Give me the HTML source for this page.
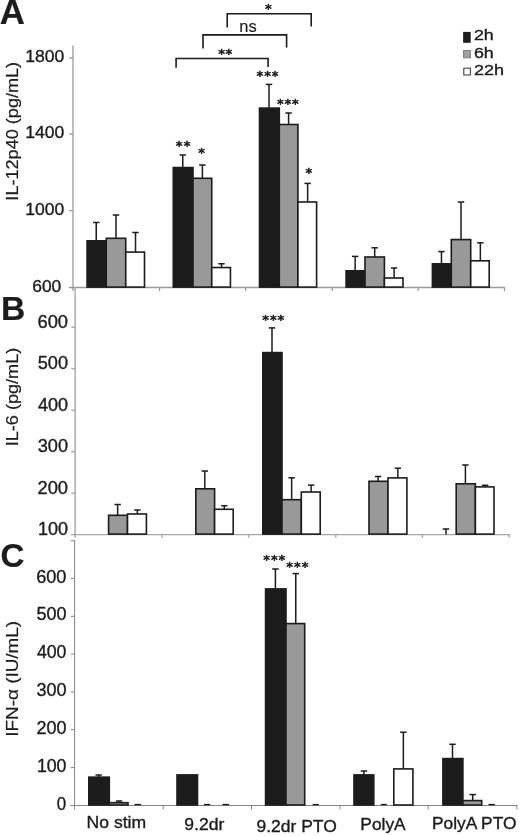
<!DOCTYPE html>
<html lang="en"><head><meta charset="utf-8"><title>Figure</title>
<style>
html,body{margin:0;padding:0;background:#fff;}
body{width:520px;height:836px;overflow:hidden;}
svg{display:block;}
.ls{font-family:"Liberation Sans",Arial,Helvetica,sans-serif;}
.dv{font-family:"DejaVu Sans","Liberation Sans",sans-serif;}
</style></head><body>
<svg width="520" height="836" viewBox="0 0 520 836">
<defs><filter id="soft" x="0" y="0" width="520" height="836" filterUnits="userSpaceOnUse"><feGaussianBlur stdDeviation="0.35"/></filter></defs>
<rect width="520" height="836" fill="#fff"/>
<g filter="url(#soft)">
<line x1="73.0" y1="45.4" x2="73.0" y2="291.1" stroke="#9a9a9a" stroke-width="1.3" stroke-linecap="butt"/>
<line x1="68.8" y1="287.5" x2="505.1" y2="287.5" stroke="#9a9a9a" stroke-width="1.3" stroke-linecap="butt"/>
<line x1="69.2" y1="58" x2="73.0" y2="58" stroke="#9a9a9a" stroke-width="1.3" stroke-linecap="butt"/>
<line x1="69.2" y1="134" x2="73.0" y2="134" stroke="#9a9a9a" stroke-width="1.3" stroke-linecap="butt"/>
<line x1="69.2" y1="210.6" x2="73.0" y2="210.6" stroke="#9a9a9a" stroke-width="1.3" stroke-linecap="butt"/>
<line x1="159.5" y1="287.5" x2="159.5" y2="291.1" stroke="#9a9a9a" stroke-width="1.3" stroke-linecap="butt"/>
<line x1="245.7" y1="287.5" x2="245.7" y2="291.1" stroke="#9a9a9a" stroke-width="1.3" stroke-linecap="butt"/>
<line x1="332.3" y1="287.5" x2="332.3" y2="291.1" stroke="#9a9a9a" stroke-width="1.3" stroke-linecap="butt"/>
<line x1="418.2" y1="287.5" x2="418.2" y2="291.1" stroke="#9a9a9a" stroke-width="1.3" stroke-linecap="butt"/>
<line x1="504.5" y1="287.5" x2="504.5" y2="291.1" stroke="#9a9a9a" stroke-width="1.3" stroke-linecap="butt"/>
<line x1="75.1" y1="287.5" x2="75.1" y2="537.8000000000001" stroke="#a6a6a6" stroke-width="1.4" stroke-linecap="butt"/>
<line x1="70.89999999999999" y1="534.6" x2="509.8" y2="534.6" stroke="#a6a6a6" stroke-width="1.4" stroke-linecap="butt"/>
<line x1="71.3" y1="327.3" x2="75.1" y2="327.3" stroke="#a6a6a6" stroke-width="1.4" stroke-linecap="butt"/>
<line x1="71.3" y1="368.6" x2="75.1" y2="368.6" stroke="#a6a6a6" stroke-width="1.4" stroke-linecap="butt"/>
<line x1="71.3" y1="410.2" x2="75.1" y2="410.2" stroke="#a6a6a6" stroke-width="1.4" stroke-linecap="butt"/>
<line x1="71.3" y1="451.7" x2="75.1" y2="451.7" stroke="#a6a6a6" stroke-width="1.4" stroke-linecap="butt"/>
<line x1="71.3" y1="493.2" x2="75.1" y2="493.2" stroke="#a6a6a6" stroke-width="1.4" stroke-linecap="butt"/>
<line x1="161.9" y1="534.6" x2="161.9" y2="537.8000000000001" stroke="#a6a6a6" stroke-width="1.4" stroke-linecap="butt"/>
<line x1="248.6" y1="534.6" x2="248.6" y2="537.8000000000001" stroke="#a6a6a6" stroke-width="1.4" stroke-linecap="butt"/>
<line x1="335.8" y1="534.6" x2="335.8" y2="537.8000000000001" stroke="#a6a6a6" stroke-width="1.4" stroke-linecap="butt"/>
<line x1="422.4" y1="534.6" x2="422.4" y2="537.8000000000001" stroke="#a6a6a6" stroke-width="1.4" stroke-linecap="butt"/>
<line x1="509.2" y1="534.6" x2="509.2" y2="537.8000000000001" stroke="#a6a6a6" stroke-width="1.4" stroke-linecap="butt"/>
<line x1="74.6" y1="540.2" x2="74.6" y2="809.5" stroke="#858585" stroke-width="1.0" stroke-linecap="butt"/>
<line x1="70.39999999999999" y1="805.5" x2="517.4" y2="805.5" stroke="#858585" stroke-width="1.0" stroke-linecap="butt"/>
<line x1="70.8" y1="540.7" x2="74.6" y2="540.7" stroke="#858585" stroke-width="1.0" stroke-linecap="butt"/>
<line x1="70.8" y1="578.4" x2="74.6" y2="578.4" stroke="#858585" stroke-width="1.0" stroke-linecap="butt"/>
<line x1="70.8" y1="616.3" x2="74.6" y2="616.3" stroke="#858585" stroke-width="1.0" stroke-linecap="butt"/>
<line x1="70.8" y1="654" x2="74.6" y2="654" stroke="#858585" stroke-width="1.0" stroke-linecap="butt"/>
<line x1="70.8" y1="691.9" x2="74.6" y2="691.9" stroke="#858585" stroke-width="1.0" stroke-linecap="butt"/>
<line x1="70.8" y1="729.7" x2="74.6" y2="729.7" stroke="#858585" stroke-width="1.0" stroke-linecap="butt"/>
<line x1="70.8" y1="767.6" x2="74.6" y2="767.6" stroke="#858585" stroke-width="1.0" stroke-linecap="butt"/>
<line x1="163.2" y1="805.5" x2="163.2" y2="809.5" stroke="#858585" stroke-width="1.0" stroke-linecap="butt"/>
<line x1="251.5" y1="805.5" x2="251.5" y2="809.5" stroke="#858585" stroke-width="1.0" stroke-linecap="butt"/>
<line x1="340" y1="805.5" x2="340" y2="809.5" stroke="#858585" stroke-width="1.0" stroke-linecap="butt"/>
<line x1="428.2" y1="805.5" x2="428.2" y2="809.5" stroke="#858585" stroke-width="1.0" stroke-linecap="butt"/>
<line x1="516.9" y1="805.5" x2="516.9" y2="809.5" stroke="#858585" stroke-width="1.0" stroke-linecap="butt"/>
<text x="25.25" y="62.0" font-size="16.8" textLength="39.07" lengthAdjust="spacingAndGlyphs" fill="#1c1c1c" stroke="#1c1c1c" stroke-width="0.35" class="ls">1800</text>
<text x="25.25" y="138.2" font-size="16.8" textLength="39.07" lengthAdjust="spacingAndGlyphs" fill="#1c1c1c" stroke="#1c1c1c" stroke-width="0.35" class="ls">1400</text>
<text x="25.25" y="215.1" font-size="16.8" textLength="39.07" lengthAdjust="spacingAndGlyphs" fill="#1c1c1c" stroke="#1c1c1c" stroke-width="0.35" class="ls">1000</text>
<text x="32.25" y="292.0" font-size="16.8" textLength="29.06" lengthAdjust="spacingAndGlyphs" fill="#1c1c1c" stroke="#1c1c1c" stroke-width="0.35" class="ls">600</text>
<text x="37.45" y="327.7" font-size="17.5" textLength="30.57" lengthAdjust="spacingAndGlyphs" fill="#1c1c1c" stroke="#1c1c1c" stroke-width="0.35" class="ls">600</text>
<text x="37.70" y="369.2" font-size="17.5" textLength="30.30" lengthAdjust="spacingAndGlyphs" fill="#1c1c1c" stroke="#1c1c1c" stroke-width="0.35" class="ls">500</text>
<text x="37.95" y="410.7" font-size="17.5" textLength="30.03" lengthAdjust="spacingAndGlyphs" fill="#1c1c1c" stroke="#1c1c1c" stroke-width="0.35" class="ls">400</text>
<text x="37.70" y="452.2" font-size="17.5" textLength="30.30" lengthAdjust="spacingAndGlyphs" fill="#1c1c1c" stroke="#1c1c1c" stroke-width="0.35" class="ls">300</text>
<text x="37.45" y="493.7" font-size="17.5" textLength="30.57" lengthAdjust="spacingAndGlyphs" fill="#1c1c1c" stroke="#1c1c1c" stroke-width="0.35" class="ls">200</text>
<text x="37.95" y="535.2" font-size="17.5" textLength="30.10" lengthAdjust="spacingAndGlyphs" fill="#1c1c1c" stroke="#1c1c1c" stroke-width="0.35" class="ls">100</text>
<text x="36.15" y="582.5" font-size="17.5" textLength="30.31" lengthAdjust="spacingAndGlyphs" fill="#1c1c1c" stroke="#1c1c1c" stroke-width="0.35" class="ls">600</text>
<text x="36.40" y="620.4" font-size="17.5" textLength="30.05" lengthAdjust="spacingAndGlyphs" fill="#1c1c1c" stroke="#1c1c1c" stroke-width="0.35" class="ls">500</text>
<text x="36.90" y="658.3" font-size="17.5" textLength="29.51" lengthAdjust="spacingAndGlyphs" fill="#1c1c1c" stroke="#1c1c1c" stroke-width="0.35" class="ls">400</text>
<text x="36.40" y="696.1" font-size="17.5" textLength="30.05" lengthAdjust="spacingAndGlyphs" fill="#1c1c1c" stroke="#1c1c1c" stroke-width="0.35" class="ls">300</text>
<text x="36.40" y="734.0" font-size="17.5" textLength="30.05" lengthAdjust="spacingAndGlyphs" fill="#1c1c1c" stroke="#1c1c1c" stroke-width="0.35" class="ls">200</text>
<text x="36.90" y="771.9" font-size="17.5" textLength="29.60" lengthAdjust="spacingAndGlyphs" fill="#1c1c1c" stroke="#1c1c1c" stroke-width="0.35" class="ls">100</text>
<text x="56.85" y="809.8" font-size="17.5" textLength="9.39" lengthAdjust="spacingAndGlyphs" fill="#1c1c1c" stroke="#1c1c1c" stroke-width="0.35" class="ls">0</text>
<text x="-0.25" y="24.0" font-size="34.6" textLength="25.12" lengthAdjust="spacingAndGlyphs" font-weight="bold" fill="#1c1c1c" stroke="#1c1c1c" stroke-width="0.2" class="ls">A</text>
<text x="0.90" y="320.1" font-size="34" textLength="24.31" lengthAdjust="spacingAndGlyphs" font-weight="bold" fill="#1c1c1c" stroke="#1c1c1c" stroke-width="0.2" class="ls">B</text>
<text x="0.45" y="566.5" font-size="34" textLength="23.93" lengthAdjust="spacingAndGlyphs" font-weight="bold" fill="#1c1c1c" stroke="#1c1c1c" stroke-width="0.2" class="ls">C</text>
<text x="18.0" y="200.65" font-size="15.9" textLength="138.80" lengthAdjust="spacingAndGlyphs" transform="rotate(-90 18.0 200.65)" fill="#1c1c1c" stroke="#1c1c1c" stroke-width="0.2" class="ls">IL-12p40 (pg/mL)</text>
<text x="17.9" y="446.30" font-size="15.9" textLength="98.57" lengthAdjust="spacingAndGlyphs" transform="rotate(-90 17.9 446.30)" fill="#1c1c1c" stroke="#1c1c1c" stroke-width="0.2" class="ls">IL-6 (pg/mL)</text>
<text x="18.2" y="736.65" font-size="15.9" textLength="115.82" lengthAdjust="spacingAndGlyphs" transform="rotate(-90 18.2 736.65)" fill="#1c1c1c" stroke="#1c1c1c" stroke-width="0.2" class="ls">IFN-α (IU/mL)</text>
<text x="473.90" y="39.7" font-size="14.9" textLength="19.89" lengthAdjust="spacingAndGlyphs" fill="#1c1c1c" stroke="#1c1c1c" stroke-width="0.35" class="ls">2h</text>
<text x="473.90" y="58.0" font-size="14.9" textLength="19.89" lengthAdjust="spacingAndGlyphs" fill="#1c1c1c" stroke="#1c1c1c" stroke-width="0.35" class="ls">6h</text>
<text x="473.90" y="75.4" font-size="14.9" textLength="30.10" lengthAdjust="spacingAndGlyphs" fill="#1c1c1c" stroke="#1c1c1c" stroke-width="0.35" class="ls">22h</text>
<text x="86.55" y="828.0" font-size="16.4" textLength="59.58" lengthAdjust="spacingAndGlyphs" fill="#1c1c1c" stroke="#1c1c1c" stroke-width="0.35" class="ls">No stim</text>
<text x="184.25" y="829.6" font-size="17.2" textLength="40.02" lengthAdjust="spacingAndGlyphs" fill="#1c1c1c" stroke="#1c1c1c" stroke-width="0.35" class="ls">9.2dr</text>
<text x="256.55" y="831.8" font-size="16.8" textLength="80.27" lengthAdjust="spacingAndGlyphs" fill="#1c1c1c" stroke="#1c1c1c" stroke-width="0.35" class="ls">9.2dr PTO</text>
<text x="360.35" y="830.3" font-size="16.4" textLength="45.27" lengthAdjust="spacingAndGlyphs" fill="#1c1c1c" stroke="#1c1c1c" stroke-width="0.35" class="ls">PolyA</text>
<text x="431.95" y="829.4" font-size="16.4" textLength="84.55" lengthAdjust="spacingAndGlyphs" fill="#1c1c1c" stroke="#1c1c1c" stroke-width="0.35" class="ls">PolyA PTO</text>
<text x="239.35" y="32.0" font-size="17" textLength="17.42" lengthAdjust="spacingAndGlyphs" fill="#1c1c1c" stroke="#1c1c1c" stroke-width="0.15" class="ls">ns</text>
<line x1="96.25" y1="222.5" x2="96.25" y2="241.0" stroke="#1c1c1c" stroke-width="1.5" stroke-linecap="butt"/>
<line x1="93.05" y1="222.5" x2="99.45" y2="222.5" stroke="#1c1c1c" stroke-width="1.5" stroke-linecap="butt"/>
<line x1="116.0" y1="215" x2="116.0" y2="238.5" stroke="#1c1c1c" stroke-width="1.5" stroke-linecap="butt"/>
<line x1="112.8" y1="215" x2="119.2" y2="215" stroke="#1c1c1c" stroke-width="1.5" stroke-linecap="butt"/>
<line x1="135.525" y1="232.5" x2="135.525" y2="252.3" stroke="#1c1c1c" stroke-width="1.5" stroke-linecap="butt"/>
<line x1="132.32500000000002" y1="232.5" x2="138.725" y2="232.5" stroke="#1c1c1c" stroke-width="1.5" stroke-linecap="butt"/>
<rect x="87.05" y="240.80" width="19.20" height="46.30" fill="#1c1c1c" stroke="#1c1c1c" stroke-width="1.6"/>
<rect x="106.25" y="238.30" width="19.50" height="48.80" fill="#999999" stroke="#1c1c1c" stroke-width="1.6"/>
<rect x="125.75" y="252.10" width="18.75" height="35.00" fill="#ffffff" stroke="#1c1c1c" stroke-width="1.6"/>
<line x1="182.75" y1="155" x2="182.75" y2="167.75" stroke="#1c1c1c" stroke-width="1.5" stroke-linecap="butt"/>
<line x1="179.55" y1="155" x2="185.95" y2="155" stroke="#1c1c1c" stroke-width="1.5" stroke-linecap="butt"/>
<line x1="202.375" y1="165" x2="202.375" y2="178.5" stroke="#1c1c1c" stroke-width="1.5" stroke-linecap="butt"/>
<line x1="199.175" y1="165" x2="205.575" y2="165" stroke="#1c1c1c" stroke-width="1.5" stroke-linecap="butt"/>
<line x1="221.5" y1="263.75" x2="221.5" y2="267.75" stroke="#1c1c1c" stroke-width="1.5" stroke-linecap="butt"/>
<line x1="218.3" y1="263.75" x2="224.7" y2="263.75" stroke="#1c1c1c" stroke-width="1.5" stroke-linecap="butt"/>
<rect x="173.30" y="167.55" width="19.70" height="119.55" fill="#1c1c1c" stroke="#1c1c1c" stroke-width="1.6"/>
<rect x="193.00" y="178.30" width="18.75" height="108.80" fill="#999999" stroke="#1c1c1c" stroke-width="1.6"/>
<rect x="211.75" y="267.55" width="18.70" height="19.55" fill="#ffffff" stroke="#1c1c1c" stroke-width="1.6"/>
<line x1="269.0" y1="84.4" x2="269.0" y2="108.3" stroke="#1c1c1c" stroke-width="1.5" stroke-linecap="butt"/>
<line x1="265.8" y1="84.4" x2="272.2" y2="84.4" stroke="#1c1c1c" stroke-width="1.5" stroke-linecap="butt"/>
<line x1="288.6" y1="113" x2="288.6" y2="124.7" stroke="#1c1c1c" stroke-width="1.5" stroke-linecap="butt"/>
<line x1="285.40000000000003" y1="113" x2="291.8" y2="113" stroke="#1c1c1c" stroke-width="1.5" stroke-linecap="butt"/>
<line x1="307.65" y1="183.4" x2="307.65" y2="202.2" stroke="#1c1c1c" stroke-width="1.5" stroke-linecap="butt"/>
<line x1="304.45" y1="183.4" x2="310.84999999999997" y2="183.4" stroke="#1c1c1c" stroke-width="1.5" stroke-linecap="butt"/>
<rect x="259.50" y="108.10" width="19.80" height="179.00" fill="#1c1c1c" stroke="#1c1c1c" stroke-width="1.6"/>
<rect x="279.30" y="124.50" width="18.60" height="162.60" fill="#999999" stroke="#1c1c1c" stroke-width="1.6"/>
<rect x="297.90" y="202.00" width="18.70" height="85.10" fill="#ffffff" stroke="#1c1c1c" stroke-width="1.6"/>
<line x1="355.15" y1="256.4" x2="355.15" y2="271.0" stroke="#1c1c1c" stroke-width="1.5" stroke-linecap="butt"/>
<line x1="351.95" y1="256.4" x2="358.34999999999997" y2="256.4" stroke="#1c1c1c" stroke-width="1.5" stroke-linecap="butt"/>
<line x1="374.7" y1="247.8" x2="374.7" y2="257.2" stroke="#1c1c1c" stroke-width="1.5" stroke-linecap="butt"/>
<line x1="371.5" y1="247.8" x2="377.9" y2="247.8" stroke="#1c1c1c" stroke-width="1.5" stroke-linecap="butt"/>
<line x1="394.1" y1="268" x2="394.1" y2="278.2" stroke="#1c1c1c" stroke-width="1.5" stroke-linecap="butt"/>
<line x1="390.90000000000003" y1="268" x2="397.3" y2="268" stroke="#1c1c1c" stroke-width="1.5" stroke-linecap="butt"/>
<rect x="346.10" y="270.80" width="18.90" height="16.30" fill="#1c1c1c" stroke="#1c1c1c" stroke-width="1.6"/>
<rect x="365.00" y="257.00" width="19.40" height="30.10" fill="#999999" stroke="#1c1c1c" stroke-width="1.6"/>
<rect x="384.40" y="278.00" width="18.60" height="9.10" fill="#ffffff" stroke="#1c1c1c" stroke-width="1.6"/>
<line x1="441.45000000000005" y1="251.6" x2="441.45000000000005" y2="264.0" stroke="#1c1c1c" stroke-width="1.5" stroke-linecap="butt"/>
<line x1="438.25000000000006" y1="251.6" x2="444.65000000000003" y2="251.6" stroke="#1c1c1c" stroke-width="1.5" stroke-linecap="butt"/>
<line x1="461.0" y1="202" x2="461.0" y2="239.8" stroke="#1c1c1c" stroke-width="1.5" stroke-linecap="butt"/>
<line x1="457.8" y1="202" x2="464.2" y2="202" stroke="#1c1c1c" stroke-width="1.5" stroke-linecap="butt"/>
<line x1="480.35" y1="242.8" x2="480.35" y2="261.0" stroke="#1c1c1c" stroke-width="1.5" stroke-linecap="butt"/>
<line x1="477.15000000000003" y1="242.8" x2="483.55" y2="242.8" stroke="#1c1c1c" stroke-width="1.5" stroke-linecap="butt"/>
<rect x="432.40" y="263.80" width="18.90" height="23.30" fill="#1c1c1c" stroke="#1c1c1c" stroke-width="1.6"/>
<rect x="451.30" y="239.60" width="19.40" height="47.50" fill="#999999" stroke="#1c1c1c" stroke-width="1.6"/>
<rect x="470.70" y="260.80" width="18.50" height="26.30" fill="#ffffff" stroke="#1c1c1c" stroke-width="1.6"/>
<line x1="117.65" y1="504.5" x2="117.65" y2="515.5" stroke="#1c1c1c" stroke-width="1.5" stroke-linecap="butt"/>
<line x1="114.45" y1="504.5" x2="120.85000000000001" y2="504.5" stroke="#1c1c1c" stroke-width="1.5" stroke-linecap="butt"/>
<line x1="137.35" y1="510" x2="137.35" y2="514.2" stroke="#1c1c1c" stroke-width="1.5" stroke-linecap="butt"/>
<line x1="134.15" y1="510" x2="140.54999999999998" y2="510" stroke="#1c1c1c" stroke-width="1.5" stroke-linecap="butt"/>
<rect x="108.60" y="515.30" width="18.90" height="18.80" fill="#999999" stroke="#1c1c1c" stroke-width="1.6"/>
<rect x="127.50" y="514.00" width="18.90" height="20.10" fill="#ffffff" stroke="#1c1c1c" stroke-width="1.6"/>
<line x1="204.8" y1="471" x2="204.8" y2="489.0" stroke="#1c1c1c" stroke-width="1.5" stroke-linecap="butt"/>
<line x1="201.60000000000002" y1="471" x2="208.0" y2="471" stroke="#1c1c1c" stroke-width="1.5" stroke-linecap="butt"/>
<line x1="224.3" y1="505.7" x2="224.3" y2="509.5" stroke="#1c1c1c" stroke-width="1.5" stroke-linecap="butt"/>
<line x1="221.10000000000002" y1="505.7" x2="227.5" y2="505.7" stroke="#1c1c1c" stroke-width="1.5" stroke-linecap="butt"/>
<rect x="195.80" y="488.80" width="18.80" height="45.30" fill="#999999" stroke="#1c1c1c" stroke-width="1.6"/>
<rect x="214.60" y="509.30" width="18.60" height="24.80" fill="#ffffff" stroke="#1c1c1c" stroke-width="1.6"/>
<line x1="272.0" y1="327.9" x2="272.0" y2="352.8" stroke="#1c1c1c" stroke-width="1.5" stroke-linecap="butt"/>
<line x1="268.8" y1="327.9" x2="275.2" y2="327.9" stroke="#1c1c1c" stroke-width="1.5" stroke-linecap="butt"/>
<line x1="291.65" y1="477.8" x2="291.65" y2="499.9" stroke="#1c1c1c" stroke-width="1.5" stroke-linecap="butt"/>
<line x1="288.45" y1="477.8" x2="294.84999999999997" y2="477.8" stroke="#1c1c1c" stroke-width="1.5" stroke-linecap="butt"/>
<line x1="311.15" y1="485.1" x2="311.15" y2="492.2" stroke="#1c1c1c" stroke-width="1.5" stroke-linecap="butt"/>
<line x1="307.95" y1="485.1" x2="314.34999999999997" y2="485.1" stroke="#1c1c1c" stroke-width="1.5" stroke-linecap="butt"/>
<rect x="262.80" y="352.60" width="19.20" height="181.50" fill="#1c1c1c" stroke="#1c1c1c" stroke-width="1.6"/>
<rect x="282.00" y="499.70" width="19.30" height="34.40" fill="#999999" stroke="#1c1c1c" stroke-width="1.6"/>
<rect x="301.30" y="492.00" width="18.90" height="42.10" fill="#ffffff" stroke="#1c1c1c" stroke-width="1.6"/>
<line x1="378.1" y1="476.5" x2="378.1" y2="481.5" stroke="#1c1c1c" stroke-width="1.5" stroke-linecap="butt"/>
<line x1="374.90000000000003" y1="476.5" x2="381.3" y2="476.5" stroke="#1c1c1c" stroke-width="1.5" stroke-linecap="butt"/>
<line x1="397.85" y1="468.2" x2="397.85" y2="478.1" stroke="#1c1c1c" stroke-width="1.5" stroke-linecap="butt"/>
<line x1="394.65000000000003" y1="468.2" x2="401.05" y2="468.2" stroke="#1c1c1c" stroke-width="1.5" stroke-linecap="butt"/>
<rect x="369.00" y="481.30" width="19.00" height="52.80" fill="#999999" stroke="#1c1c1c" stroke-width="1.6"/>
<rect x="388.00" y="477.90" width="18.90" height="56.20" fill="#ffffff" stroke="#1c1c1c" stroke-width="1.6"/>
<line x1="465.4" y1="465" x2="465.4" y2="484.0" stroke="#1c1c1c" stroke-width="1.5" stroke-linecap="butt"/>
<line x1="462.2" y1="465" x2="468.59999999999997" y2="465" stroke="#1c1c1c" stroke-width="1.5" stroke-linecap="butt"/>
<line x1="485.1" y1="485.3" x2="485.1" y2="487.1" stroke="#1c1c1c" stroke-width="1.5" stroke-linecap="butt"/>
<line x1="481.90000000000003" y1="485.3" x2="488.3" y2="485.3" stroke="#1c1c1c" stroke-width="1.5" stroke-linecap="butt"/>
<rect x="456.20" y="483.80" width="19.20" height="50.30" fill="#999999" stroke="#1c1c1c" stroke-width="1.6"/>
<rect x="475.40" y="486.90" width="18.60" height="47.20" fill="#ffffff" stroke="#1c1c1c" stroke-width="1.6"/>
<line x1="446" y1="529" x2="446" y2="534.5" stroke="#1c1c1c" stroke-width="1.5" stroke-linecap="butt"/>
<line x1="442.8" y1="529" x2="449.2" y2="529" stroke="#1c1c1c" stroke-width="1.5" stroke-linecap="butt"/>
<line x1="98.65" y1="775" x2="98.65" y2="777.35" stroke="#1c1c1c" stroke-width="1.5" stroke-linecap="butt"/>
<line x1="95.45" y1="775" x2="101.85000000000001" y2="775" stroke="#1c1c1c" stroke-width="1.5" stroke-linecap="butt"/>
<line x1="119.05000000000001" y1="801" x2="119.05000000000001" y2="802.9" stroke="#1c1c1c" stroke-width="1.5" stroke-linecap="butt"/>
<line x1="115.85000000000001" y1="801" x2="122.25000000000001" y2="801" stroke="#1c1c1c" stroke-width="1.5" stroke-linecap="butt"/>
<rect x="88.80" y="777.15" width="20.50" height="27.85" fill="#1c1c1c" stroke="#1c1c1c" stroke-width="1.6"/>
<rect x="109.30" y="802.70" width="18.70" height="2.30" fill="#999999" stroke="#1c1c1c" stroke-width="1.6"/>
<rect x="177.00" y="774.90" width="20.50" height="30.10" fill="#1c1c1c" stroke="#1c1c1c" stroke-width="1.6"/>
<line x1="275.4" y1="569" x2="275.4" y2="589.1" stroke="#1c1c1c" stroke-width="1.5" stroke-linecap="butt"/>
<line x1="272.2" y1="569" x2="278.59999999999997" y2="569" stroke="#1c1c1c" stroke-width="1.5" stroke-linecap="butt"/>
<line x1="295.75" y1="573.6" x2="295.75" y2="623.8000000000001" stroke="#1c1c1c" stroke-width="1.5" stroke-linecap="butt"/>
<line x1="292.55" y1="573.6" x2="298.95" y2="573.6" stroke="#1c1c1c" stroke-width="1.5" stroke-linecap="butt"/>
<rect x="265.60" y="588.90" width="20.40" height="216.10" fill="#1c1c1c" stroke="#1c1c1c" stroke-width="1.6"/>
<rect x="286.00" y="623.60" width="18.70" height="181.40" fill="#999999" stroke="#1c1c1c" stroke-width="1.6"/>
<line x1="363.9" y1="771" x2="363.9" y2="775.1" stroke="#1c1c1c" stroke-width="1.5" stroke-linecap="butt"/>
<line x1="360.7" y1="771" x2="367.09999999999997" y2="771" stroke="#1c1c1c" stroke-width="1.5" stroke-linecap="butt"/>
<line x1="403.35" y1="732.2" x2="403.35" y2="769.1" stroke="#1c1c1c" stroke-width="1.5" stroke-linecap="butt"/>
<line x1="400.15000000000003" y1="732.2" x2="406.55" y2="732.2" stroke="#1c1c1c" stroke-width="1.5" stroke-linecap="butt"/>
<rect x="354.00" y="774.90" width="19.80" height="30.10" fill="#1c1c1c" stroke="#1c1c1c" stroke-width="1.6"/>
<rect x="393.80" y="768.90" width="19.10" height="36.10" fill="#ffffff" stroke="#1c1c1c" stroke-width="1.6"/>
<line x1="452.5" y1="744.3" x2="452.5" y2="758.8000000000001" stroke="#1c1c1c" stroke-width="1.5" stroke-linecap="butt"/>
<line x1="449.3" y1="744.3" x2="455.7" y2="744.3" stroke="#1c1c1c" stroke-width="1.5" stroke-linecap="butt"/>
<line x1="472.7" y1="794.6" x2="472.7" y2="800.8000000000001" stroke="#1c1c1c" stroke-width="1.5" stroke-linecap="butt"/>
<line x1="469.5" y1="794.6" x2="475.9" y2="794.6" stroke="#1c1c1c" stroke-width="1.5" stroke-linecap="butt"/>
<rect x="442.90" y="758.60" width="20.00" height="46.40" fill="#1c1c1c" stroke="#1c1c1c" stroke-width="1.6"/>
<rect x="462.90" y="800.60" width="18.80" height="4.40" fill="#999999" stroke="#1c1c1c" stroke-width="1.6"/>
<line x1="134.4" y1="804.6" x2="141" y2="804.6" stroke="#1c1c1c" stroke-width="1.4" stroke-linecap="butt"/>
<line x1="204" y1="804.6" x2="210.3" y2="804.6" stroke="#1c1c1c" stroke-width="1.4" stroke-linecap="butt"/>
<line x1="222.5" y1="804.6" x2="229" y2="804.6" stroke="#1c1c1c" stroke-width="1.4" stroke-linecap="butt"/>
<line x1="312.6" y1="804.6" x2="318.8" y2="804.6" stroke="#1c1c1c" stroke-width="1.4" stroke-linecap="butt"/>
<line x1="380.8" y1="804.6" x2="386.8" y2="804.6" stroke="#1c1c1c" stroke-width="1.4" stroke-linecap="butt"/>
<line x1="488.5" y1="804.6" x2="494.8" y2="804.6" stroke="#1c1c1c" stroke-width="1.4" stroke-linecap="butt"/>
<text x="175.65" y="149.95" font-size="12.8" textLength="6.7" lengthAdjust="spacingAndGlyphs" class="dv" fill="#1c1c1c" stroke="#1c1c1c" stroke-width="0.6">*</text>
<text x="183.65" y="149.95" font-size="12.8" textLength="6.7" lengthAdjust="spacingAndGlyphs" class="dv" fill="#1c1c1c" stroke="#1c1c1c" stroke-width="0.6">*</text>
<text x="198.20" y="157.35" font-size="12.8" textLength="6.7" lengthAdjust="spacingAndGlyphs" class="dv" fill="#1c1c1c" stroke="#1c1c1c" stroke-width="0.6">*</text>
<text x="256.45" y="79.65" font-size="12.8" textLength="6.7" lengthAdjust="spacingAndGlyphs" class="dv" fill="#1c1c1c" stroke="#1c1c1c" stroke-width="0.6">*</text>
<text x="264.15" y="79.65" font-size="12.8" textLength="6.7" lengthAdjust="spacingAndGlyphs" class="dv" fill="#1c1c1c" stroke="#1c1c1c" stroke-width="0.6">*</text>
<text x="271.85" y="79.65" font-size="12.8" textLength="6.7" lengthAdjust="spacingAndGlyphs" class="dv" fill="#1c1c1c" stroke="#1c1c1c" stroke-width="0.6">*</text>
<text x="277.05" y="107.85" font-size="12.8" textLength="6.7" lengthAdjust="spacingAndGlyphs" class="dv" fill="#1c1c1c" stroke="#1c1c1c" stroke-width="0.6">*</text>
<text x="284.55" y="107.85" font-size="12.8" textLength="6.7" lengthAdjust="spacingAndGlyphs" class="dv" fill="#1c1c1c" stroke="#1c1c1c" stroke-width="0.6">*</text>
<text x="292.05" y="107.85" font-size="12.8" textLength="6.7" lengthAdjust="spacingAndGlyphs" class="dv" fill="#1c1c1c" stroke="#1c1c1c" stroke-width="0.6">*</text>
<text x="305.50" y="177.25" font-size="12.8" textLength="6.7" lengthAdjust="spacingAndGlyphs" class="dv" fill="#1c1c1c" stroke="#1c1c1c" stroke-width="0.6">*</text>
<text x="264.95" y="13.45" font-size="12.8" textLength="6.7" lengthAdjust="spacingAndGlyphs" class="dv" fill="#1c1c1c" stroke="#1c1c1c" stroke-width="0.6">*</text>
<text x="218.25" y="57.65" font-size="12.8" textLength="6.7" lengthAdjust="spacingAndGlyphs" class="dv" fill="#1c1c1c" stroke="#1c1c1c" stroke-width="0.6">*</text>
<text x="225.45" y="57.65" font-size="12.8" textLength="6.7" lengthAdjust="spacingAndGlyphs" class="dv" fill="#1c1c1c" stroke="#1c1c1c" stroke-width="0.6">*</text>
<text x="262.25" y="324.45" font-size="12.8" textLength="6.7" lengthAdjust="spacingAndGlyphs" class="dv" fill="#1c1c1c" stroke="#1c1c1c" stroke-width="0.6">*</text>
<text x="269.90" y="324.45" font-size="12.8" textLength="6.7" lengthAdjust="spacingAndGlyphs" class="dv" fill="#1c1c1c" stroke="#1c1c1c" stroke-width="0.6">*</text>
<text x="277.55" y="324.45" font-size="12.8" textLength="6.7" lengthAdjust="spacingAndGlyphs" class="dv" fill="#1c1c1c" stroke="#1c1c1c" stroke-width="0.6">*</text>
<text x="263.25" y="563.95" font-size="12.8" textLength="6.7" lengthAdjust="spacingAndGlyphs" class="dv" fill="#1c1c1c" stroke="#1c1c1c" stroke-width="0.6">*</text>
<text x="270.90" y="563.95" font-size="12.8" textLength="6.7" lengthAdjust="spacingAndGlyphs" class="dv" fill="#1c1c1c" stroke="#1c1c1c" stroke-width="0.6">*</text>
<text x="278.55" y="563.95" font-size="12.8" textLength="6.7" lengthAdjust="spacingAndGlyphs" class="dv" fill="#1c1c1c" stroke="#1c1c1c" stroke-width="0.6">*</text>
<text x="286.35" y="571.15" font-size="12.8" textLength="6.7" lengthAdjust="spacingAndGlyphs" class="dv" fill="#1c1c1c" stroke="#1c1c1c" stroke-width="0.6">*</text>
<text x="294.00" y="571.15" font-size="12.8" textLength="6.7" lengthAdjust="spacingAndGlyphs" class="dv" fill="#1c1c1c" stroke="#1c1c1c" stroke-width="0.6">*</text>
<text x="301.65" y="571.15" font-size="12.8" textLength="6.7" lengthAdjust="spacingAndGlyphs" class="dv" fill="#1c1c1c" stroke="#1c1c1c" stroke-width="0.6">*</text>
<path d="M227.2 27.6V13.7H311.2V26.6" fill="none" stroke="#1c1c1c" stroke-width="1.6"/>
<path d="M203 48.6V34.9H286.6V47.4" fill="none" stroke="#1c1c1c" stroke-width="1.6"/>
<path d="M176.1 67.7V58.5H268.1V67.0" fill="none" stroke="#1c1c1c" stroke-width="1.6"/>
<rect x="463.1" y="31.9" width="7.6" height="10.9" fill="#1c1c1c"/>
<rect x="463.6" y="50.5" width="6.8" height="7.2" fill="#a0a0a0" stroke="#808080" stroke-width="1.1"/>
<rect x="463.8" y="68.2" width="6.6" height="6.8" fill="#fff" stroke="#444" stroke-width="1.1"/>
</g>
</svg>
</body></html>
